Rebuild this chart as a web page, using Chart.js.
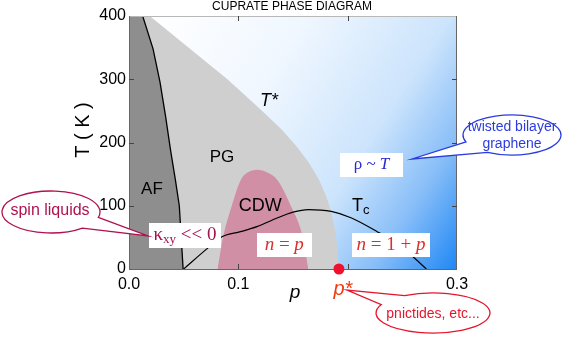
<!DOCTYPE html>
<html>
<head>
<meta charset="utf-8">
<script src="https://cdn.jsdelivr.net/npm/chart.js@4"></script>
<style>
  body { margin: 0; background: #fff; }
  #wrap { width: 575px; height: 337px; }
</style>
</head>
<body>
<div id="wrap"><canvas id="c" width="575" height="337"></canvas></div>
<script>
const tStarP = [0, 0.019, 0.09, 0.1162, 0.1399, 0.1537, 0.1646, 0.1738, 0.1806, 0.1852, 0.1884, 0.1907, 0.1921];
const tStarT = [400, 400, 300, 259, 220, 193, 168, 141, 114, 89, 62, 30, 0];

const afP = [0, 0.0125, 0.022, 0.0284, 0.0335, 0.038, 0.0425, 0.046, 0.0495];
const afT = [400, 400, 348, 295, 241, 188, 140, 100, 0];

const cdwP = [0.081, 0.086, 0.094, 0.102, 0.108, 0.117, 0.127, 0.136, 0.148, 0.159, 0.164];
const cdwT = [0, 50, 100, 140, 152, 157, 152, 140, 100, 50, 0];

const tcP = [0.05, 0.072, 0.085, 0.102, 0.117, 0.136, 0.15, 0.164, 0.185, 0.203, 0.227, 0.245, 0.26, 0.272];
const tcT = [0, 33, 51, 59, 67, 81, 90, 94, 91, 81, 59, 40, 19, 0];

const pStar = [0.192];
const pStarT = [0];

const xTicks = [0, 0.1, 0.2, 0.3];
const yTicks = [0, 100, 200, 300, 400];

const pts = (xs, ys) => xs.map((x, i) => ({ x: x, y: ys[i] }));

const SANS = '"Liberation Sans", Arial, sans-serif';
const SERIF = '"Liberation Serif", "Times New Roman", serif';

// escribe texto por partes (cursivas, subíndices)
function richText(ctx, parts, x, y) {
  let w = 0;
  parts.forEach(p => { ctx.font = p.font; w += ctx.measureText(p.t).width; });
  let cx = x - w / 2;
  ctx.textAlign = 'left';
  ctx.textBaseline = 'middle';
  parts.forEach(p => {
    ctx.font = p.font;
    ctx.fillStyle = p.color;
    ctx.fillText(p.t, cx, y + (p.dy || 0));
    cx += ctx.measureText(p.t).width;
  });
}

function bubble(ctx, cx, cy, rx, ry, a1, a2, tip, color) {
  const r = d => d * Math.PI / 180;
  ctx.beginPath();
  ctx.ellipse(cx, cy, rx, ry, 0, r(a1), r(a2) + (a2 < a1 ? 2 * Math.PI : 0));
  ctx.lineTo(tip[0], tip[1]);
  ctx.closePath();
  ctx.fillStyle = '#fff';
  ctx.fill();
  ctx.strokeStyle = color;
  ctx.lineWidth = 1.3;
  ctx.stroke();
}

const marco = {
  id: 'marco',
  afterDatasetDraw(chart, args) {
    if (args.index !== 1) return;
    const { ctx, chartArea: a, scales: { x, y } } = chart;
    ctx.save();
    ctx.lineWidth = 1;
    ctx.strokeStyle = '#b8b8b8';
    ctx.beginPath();
    ctx.moveTo(a.left, a.top + 0.5); ctx.lineTo(a.right, a.top + 0.5);
    ctx.stroke();
    ctx.strokeStyle = '#666';
    ctx.beginPath();
    ctx.moveTo(a.left + 0.5, a.top); ctx.lineTo(a.left + 0.5, a.bottom);
    ctx.moveTo(a.right - 0.5, a.top); ctx.lineTo(a.right - 0.5, a.bottom);
    ctx.stroke();
    ctx.strokeStyle = '#4a6a9a';
    ctx.beginPath();
    ctx.moveTo(a.left, a.bottom + 0.5); ctx.lineTo(a.right, a.bottom + 0.5);
    ctx.stroke();
    ctx.strokeStyle = '#444';
    ctx.beginPath();
    [0.1, 0.2].forEach(v => {
      const px = Math.round(x.getPixelForValue(v)) + 0.5;
      ctx.moveTo(px, a.bottom); ctx.lineTo(px, a.bottom - 5);
      ctx.moveTo(px, a.top); ctx.lineTo(px, a.top + 5);
    });
    [100, 200, 300].forEach(v => {
      const py = Math.round(y.getPixelForValue(v)) + 0.5;
      ctx.moveTo(a.left, py); ctx.lineTo(a.left + 5, py);
      ctx.moveTo(a.right, py); ctx.lineTo(a.right - 5, py);
    });
    ctx.stroke();
    ctx.restore();
  },
  afterDatasetsDraw(chart) {
    const { ctx, chartArea: a, scales: { x, y } } = chart;
    const X = v => x.getPixelForValue(v), Y = v => y.getPixelForValue(v);
    ctx.save();

    // cajas blancas
    const cajas = [
      { p: 0.0512, t: 53, w: 72, h: 25, parts: [
        { t: 'κ', font: '19px ' + SERIF, color: '#a3114f' },
        { t: 'xy', font: '13px ' + SERIF, color: '#a3114f', dy: 4 },
        { t: ' << 0', font: '19px ' + SERIF, color: '#a3114f' }] },
      { p: 0.142, t: 38, w: 55, h: 24, parts: [
        { t: 'n', font: 'italic 19px ' + SERIF, color: '#d9302c' },
        { t: ' = ', font: '19px ' + SERIF, color: '#d9302c' },
        { t: 'p', font: 'italic 19px ' + SERIF, color: '#d9302c' }] },
      { p: 0.2396, t: 38, w: 78, h: 24, parts: [
        { t: 'n', font: 'italic 19px ' + SERIF, color: '#d9302c' },
        { t: ' = 1 + ', font: '19px ' + SERIF, color: '#d9302c' },
        { t: 'p', font: 'italic 19px ' + SERIF, color: '#d9302c' }] },
      { p: 0.2218, t: 165, w: 63, h: 24, parts: [
        { t: 'ρ ~ ', font: '17px ' + SERIF, color: '#2a2ad0' },
        { t: 'T', font: 'italic 17px ' + SERIF, color: '#2a2ad0' }] }
    ];
    cajas.forEach(c => {
      const cx = X(c.p), cy = Y(c.t);
      ctx.fillStyle = '#fff';
      ctx.fillRect(Math.round(cx - c.w / 2), Math.round(cy - c.h / 2), c.w, c.h);
      richText(ctx, c.parts, cx, cy);
    });

    // etiquetas de fases
    ctx.fillStyle = '#000';
    ctx.textAlign = 'center';
    ctx.textBaseline = 'middle';
    ctx.font = '17px ' + SANS;
    ctx.fillText('AF', X(0.021), Y(126));
    ctx.fillText('PG', X(0.085), Y(177));
    ctx.font = '18px ' + SANS;
    ctx.fillText('CDW', X(0.12), Y(100));
    richText(ctx, [{ t: 'T*', font: 'italic 18px ' + SANS, color: '#000' }], X(0.128), Y(266));
    richText(ctx, [
      { t: 'T', font: '18px ' + SANS, color: '#000' },
      { t: 'c', font: '13px ' + SANS, color: '#000', dy: 5 }], X(0.212), Y(100));

    // burbujas
    bubble(ctx, 512, 135, 49, 20, 160, 120, [412, 159], '#2b3be0');
    richText(ctx, [{ t: 'twisted bilayer', font: '14px ' + SANS, color: '#2b3be0' }], 512, 127);
    richText(ctx, [{ t: 'graphene', font: '14px ' + SANS, color: '#2b3be0' }], 512, 144);

    bubble(ctx, 51, 212, 49, 21, 50, 15, [148, 236], '#b0124f');
    richText(ctx, [{ t: 'spin liquids', font: '16px ' + SANS, color: '#b0124f' }], 50, 211);

    bubble(ctx, 433, 313, 57, 20, 240, 205, [347, 290], '#e5162c');
    richText(ctx, [{ t: 'pnictides, etc...', font: '14px ' + SANS, color: '#e5162c' }], 433, 314);

    // textos de ejes
    richText(ctx, [{ t: 'p*', font: 'italic 20px ' + SANS, color: '#f03a12' }], X(0.192) + 4, a.bottom + 20);
    richText(ctx, [{ t: 'p', font: 'italic 19px ' + SANS, color: '#000' }], 295, 293);
    richText(ctx, [{ t: 'CUPRATE PHASE DIAGRAM', font: '12px ' + SANS, color: '#000' }], 292, 7);
    ctx.translate(83, 130);
    ctx.rotate(-Math.PI / 2);
    richText(ctx, [{ t: 'T ( K )', font: '20px ' + SANS, color: '#000' }], 0, 0);
    ctx.restore();
  }
};

new Chart(document.getElementById('c'), {
  type: 'line',
  data: {
    datasets: [
      { label: 'p*', data: pts(pStar, pStarT), showLine: false, pointRadius: 5.5,
        pointBackgroundColor: '#f0102e', pointBorderWidth: 0, clip: false },
      { label: 'Tc', data: pts(tcP, tcT), borderColor: '#000', borderWidth: 1.2,
        pointRadius: 0, fill: false, cubicInterpolationMode: 'monotone' },
      { label: 'CDW', data: pts(cdwP, cdwT), borderWidth: 0, pointRadius: 0,
        fill: 'origin', backgroundColor: '#d08fa4', cubicInterpolationMode: 'monotone' },
      { label: 'AF borde', data: pts(afP.slice(1), afT.slice(1)), borderColor: '#000', borderWidth: 1.3,
        pointRadius: 0, fill: false, tension: 0 },
      { label: 'AF', data: pts(afP, afT), borderWidth: 0, pointRadius: 0,
        fill: 'origin', backgroundColor: '#8e8e8e', tension: 0 },
      { label: 'PG', data: pts(tStarP, tStarT), borderWidth: 0, pointRadius: 0,
        fill: 'origin', backgroundColor: '#cfcfcf', tension: 0 },
      { label: 'fondo', data: pts([0, 0.3], [400, 400]), borderWidth: 0, pointRadius: 0,
        fill: 'origin',
        backgroundColor: c => {
          const a = c.chart.chartArea;
          if (!a) return '#9cc9fb';
          const g = c.chart.ctx.createLinearGradient(a.left - 3, a.top + 39, a.right, a.bottom);
          g.addColorStop(0, '#ffffff');
          g.addColorStop(0.33, '#f0f7ff');
          g.addColorStop(0.64, '#cce4fc');
          g.addColorStop(0.82, '#88bef8');
          g.addColorStop(1, '#1f87f5');
          return g;
        } }
    ]
  },
  options: {
    responsive: false,
    animation: false,
    devicePixelRatio: 1,
    layout: { padding: { left: 0, right: 118, top: 16, bottom: 0 } },
    plugins: { legend: { display: false }, tooltip: { enabled: false } },
    scales: {
      x: {
        type: 'linear', min: 0, max: 0.3,
        afterFit: s => { s.height = 68; },
        afterBuildTicks: s => { s.ticks = xTicks.map(v => ({ value: v })); },
        grid: { display: false, drawTicks: false }, border: { display: false },
        ticks: {
          padding: 6, color: '#000', font: { family: SANS, size: 16 },
          callback: v => Math.abs(v - 0.2) < 1e-6 ? '' : v.toFixed(1)
        }
      },
      y: {
        type: 'linear', min: 0, max: 400,
        afterFit: s => { s.width = 129; },
        afterBuildTicks: s => { s.ticks = yTicks.map(v => ({ value: v })); },
        grid: { display: false, drawTicks: false }, border: { display: false },
        ticks: { padding: 3, color: '#000', font: { family: SANS, size: 16 } }
      }
    }
  },
  plugins: [marco]
});
</script>
</body>
</html>
